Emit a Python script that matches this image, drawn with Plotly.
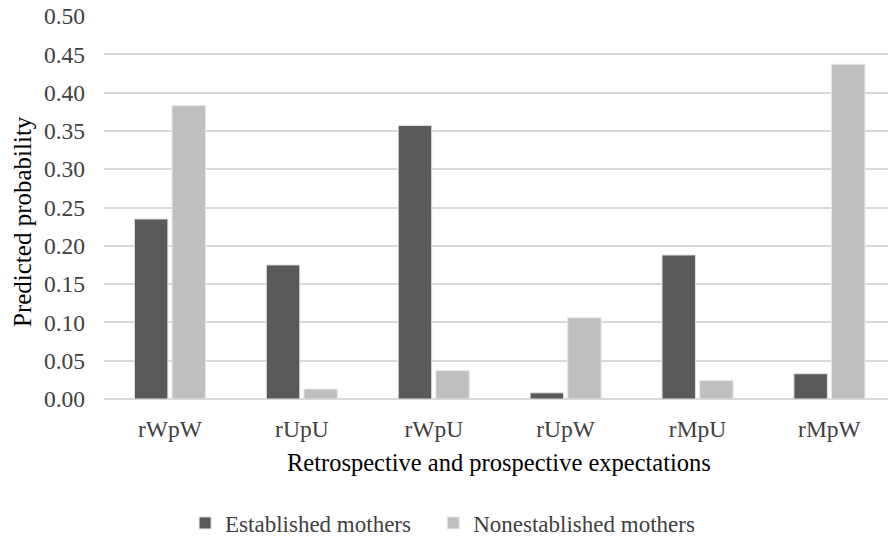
import plotly.graph_objects as go

categories = ["rWpW", "rUpU", "rWpU", "rUpW", "rMpU", "rMpW"]
established = [0.235, 0.175, 0.357, 0.008, 0.188, 0.033]
nonestablished = [0.383, 0.013, 0.037, 0.106, 0.024, 0.437]
y_ticks = [0.0, 0.05, 0.10, 0.15, 0.20, 0.25, 0.30, 0.35, 0.40, 0.45, 0.50]

FONT = "Liberation Serif, Times New Roman, serif"
FS = 23.5

fig = go.Figure()
fig.add_bar(x=categories, y=established, name="Established mothers\u00a0\u00a0\u00a0",
            marker=dict(color="#595959", line=dict(color="#e0e0e0", width=1)))
fig.add_bar(x=categories, y=nonestablished, name="Nonestablished mothers",
            marker=dict(color="#bfbfbf", line=dict(color="#e8e8e8", width=1)))

fig.update_layout(
    width=888, height=539,
    margin=dict(l=104, r=0, t=16, b=140),
    paper_bgcolor="white", plot_bgcolor="white",
    font=dict(family=FONT, size=FS, color="#404040"),
    barmode="group", bargap=0.43, bargroupgap=0.11,
    showlegend=True,
    legend=dict(orientation="h", x=0.1034, xref="paper", xanchor="left",
                y=1 - 523 / 539, yref="container", yanchor="middle",
                font=dict(size=23, color="#404040"), itemwidth=30),
    xaxis=dict(range=[-0.5, 5.444], showgrid=False, showline=False, ticks="",
               ticklabelstandoff=13,
               tickfont=dict(size=FS, color="#404040")),
    yaxis=dict(range=[0, 0.5], tickvals=y_ticks, tickformat=".2f",
               showgrid=True, gridcolor="#d9d9d9", gridwidth=1.5,
               zeroline=True, zerolinecolor="#d9d9d9", zerolinewidth=1.5,
               ticklabelstandoff=18,
               tickfont=dict(size=FS, color="#404040")),
    annotations=[
        dict(text="Retrospective and prospective expectations",
             xref="paper", yref="paper", x=(499 - 104) / 784, y=-0.167,
             xanchor="center", yanchor="middle", showarrow=False,
             font=dict(size=24.5, color="#000000")),
        dict(text="Predicted probability", textangle=-90,
             xref="paper", yref="paper", x=(22 - 104) / 784, y=(399 - 222) / 383,
             xanchor="center", yanchor="middle", showarrow=False,
             font=dict(size=25, color="#000000")),
    ],
)

fig.write_html("out.html", config={"displayModeBar": False},
               post_script="document.body.style.margin='0';")
